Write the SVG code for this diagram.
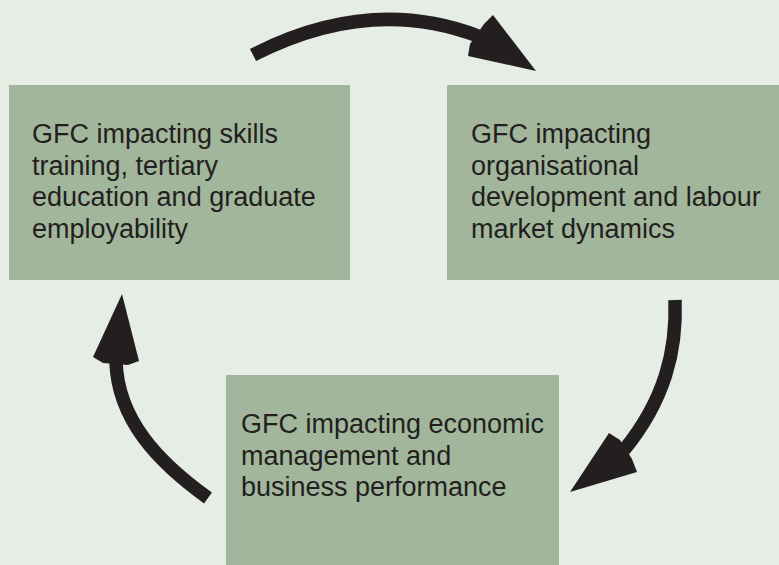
<svg xmlns="http://www.w3.org/2000/svg" width="779" height="565" viewBox="0 0 779 565">
<style>
.box{fill:#a2b69b}
.t{font-family:"Liberation Sans",Arial,sans-serif;font-size:27px;fill:#231f20}
.shaft{fill:none;stroke:#231f20;stroke-width:13.5}
.head{fill:#231f20}
</style>
<rect width="779" height="565" fill="#e6ede5"/>
<g id="node-skills">
<rect class="box" x="9" y="85" width="341" height="195"/>
<text class="t" x="32"><tspan x="32" y="143">GFC impacting skills</tspan><tspan x="32" y="174.5">training, tertiary</tspan><tspan x="32" y="206">education and graduate</tspan><tspan x="32" y="237.5">employability</tspan></text>
</g>
<g id="node-organisational">
<rect class="box" x="447" y="85" width="332" height="195"/>
<text class="t" x="471"><tspan x="471" y="143">GFC impacting</tspan><tspan x="471" y="174.5">organisational</tspan><tspan x="471" y="206">development and labour</tspan><tspan x="471" y="237.5">market dynamics</tspan></text>
</g>
<g id="node-economic">
<rect class="box" x="226" y="375" width="333" height="190"/>
<text class="t" x="241"><tspan x="241" y="433">GFC impacting economic</tspan><tspan x="241" y="464.5">management and</tspan><tspan x="241" y="496">business performance</tspan></text>
</g>
<g id="connectors">
<path class="shaft" d="M253,55 Q370,-5 478,36"/>
<polygon class="head" points="493,15 536,71 468,56 470,44 484,24"/>
<path class="shaft" d="M675,300 C677,350 665,400 624,450"/>
<polygon class="head" points="570,492 609,433 620,440 632,459 637,472"/>
<path class="shaft" d="M208,498 C158,462 118,420 116,362"/>
<polygon class="head" points="122,294 93,357 103,363 128,365 139,361"/>
</g>
</svg>
